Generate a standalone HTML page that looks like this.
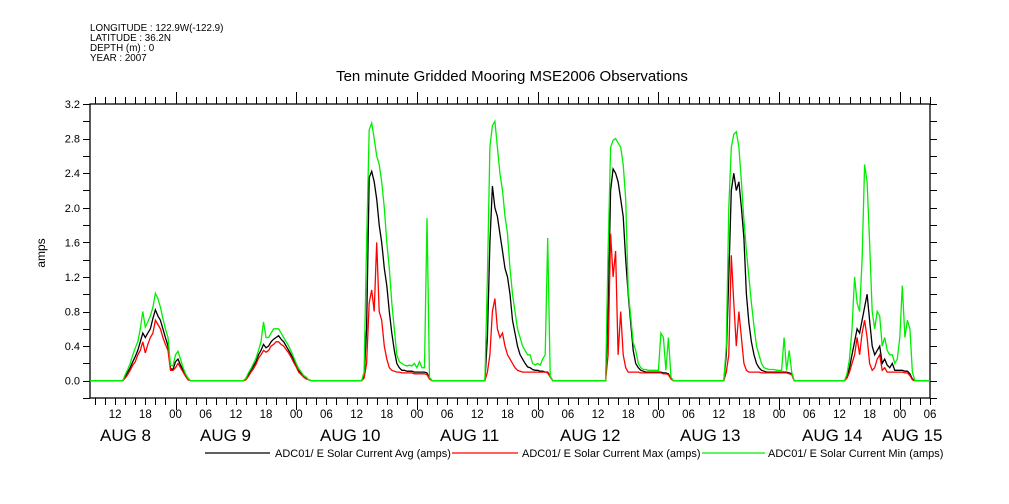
<!DOCTYPE html>
<html><head><meta charset="utf-8"><style>
body{margin:0;background:#fff;}
svg{display:block;font-family:"Liberation Sans",sans-serif;}
</style></head><body>
<svg id="chart" width="1009" height="504" viewBox="0 0 1009 504" xmlns="http://www.w3.org/2000/svg">
<rect width="1009" height="504" fill="#fff"/>
<g font-size="9.8" fill="#000">
<text x="90" y="31">LONGITUDE : 122.9W(-122.9)</text>
<text x="90" y="41">LATITUDE : 36.2N</text>
<text x="90" y="51">DEPTH (m) : 0</text>
<text x="90" y="61">YEAR : 2007</text>
</g>
<text x="512" y="81" font-size="15" text-anchor="middle" fill="#000">Ten minute Gridded Mooring MSE2006 Observations</text>
<text x="0" y="0" font-size="12" text-anchor="middle" transform="translate(45,253) rotate(-90)">amps</text>
<g id="axes"></g>
<g id="series"></g>
<g id="legend" font-size="11" fill="#000">
<line x1="205" y1="453" x2="270" y2="453" stroke="#000" stroke-width="1.2"/>
<text x="275" y="457">ADC01/ E Solar Current Avg (amps)</text>
<line x1="452" y1="453" x2="518" y2="453" stroke="#f00" stroke-width="1.2"/>
<text x="522" y="457">ADC01/ E Solar Current Max (amps)</text>
<line x1="702" y1="453" x2="765" y2="453" stroke="#0e0" stroke-width="1.2"/>
<text x="768" y="457">ADC01/ E Solar Current Min (amps)</text>
</g>
</svg>
<script>
// hours measured from AUG 8 00:00; each day's samples every 30 min from local 13:00 to 28:00
const dayStarts = [0, 24, 48, 72, 96, 120, 144];
const dayLabels = ["AUG   8","AUG   9","AUG 10","AUG 11","AUG 12","AUG 13","AUG 14","AUG 15"];
const yTicks = [0.0, 0.4, 0.8, 1.2, 1.6, 2.0, 2.4, 2.8, 3.2];
const xHourLabels = ["00","06","12","18"];
const avgAug8 = [0,0,0.05,0.1,0.15,0.22,0.28,0.35,0.45,0.55,0.5,0.55,0.6,0.72,0.82,0.75,0.7,0.6,0.5,0.4,0.14,0.13,0.22,0.25,0.18,0.12,0.06,0.02,0,0,0];
const maxAug8 = [0,0,0.07,0.13,0.2,0.3,0.38,0.45,0.6,0.8,0.62,0.68,0.75,0.85,1.01,0.95,0.85,0.72,0.6,0.5,0.18,0.17,0.3,0.34,0.25,0.15,0.08,0.03,0,0,0];
const minAug8 = [0,0,0.03,0.07,0.12,0.18,0.22,0.3,0.35,0.45,0.32,0.42,0.5,0.55,0.7,0.65,0.6,0.5,0.42,0.35,0.12,0.12,0.15,0.2,0.15,0.1,0.05,0.01,0,0,0];
const avgAug9 = [0,0,0.02,0.07,0.12,0.17,0.22,0.3,0.35,0.42,0.38,0.4,0.45,0.48,0.5,0.52,0.48,0.45,0.4,0.35,0.3,0.24,0.18,0.12,0.08,0.05,0.03,0.01,0,0,0];
const maxAug9 = [0,0,0.03,0.09,0.14,0.2,0.26,0.35,0.45,0.68,0.5,0.5,0.55,0.6,0.6,0.6,0.55,0.5,0.45,0.4,0.34,0.27,0.2,0.14,0.1,0.06,0.04,0.01,0,0,0];
const minAug9 = [0,0,0.01,0.05,0.1,0.14,0.19,0.26,0.3,0.35,0.33,0.35,0.4,0.42,0.45,0.45,0.42,0.4,0.36,0.32,0.27,0.21,0.16,0.1,0.07,0.04,0.02,0.01,0,0,0];
const avgAug10 = [0,0.05,0.6,2.35,2.42,2.3,2.1,1.8,1.6,1.3,1.1,0.8,0.55,0.35,0.2,0.15,0.12,0.12,0.11,0.11,0.11,0.1,0.1,0.1,0.1,0.1,0.09,0.03,0,0,0];
const maxAug10 = [0,0.1,1.6,2.9,2.98,2.8,2.6,2.5,2.3,2.0,1.6,1.3,0.9,0.6,0.3,0.22,0.2,0.18,0.17,0.18,0.17,0.2,0.15,0.22,0.15,0.15,1.88,0.04,0,0,0];
const minAug10 = [0,0.03,0.2,0.9,1.05,0.8,1.6,0.8,0.7,0.4,0.25,0.15,0.12,0.11,0.1,0.1,0.09,0.09,0.09,0.09,0.09,0.08,0.08,0.08,0.08,0.08,0.07,0.02,0,0,0];
const avgAug11 = [0,0,0.5,1.6,2.25,2.0,1.9,1.7,1.5,1.3,1.2,1.0,0.7,0.55,0.4,0.3,0.25,0.2,0.16,0.15,0.13,0.12,0.12,0.11,0.11,0.1,0.1,0.05,0,0,0];
const maxAug11 = [0,0,1.2,2.7,2.95,3.0,2.7,2.4,2.2,1.9,1.7,1.3,1.0,0.8,0.6,0.5,0.4,0.35,0.3,0.3,0.2,0.18,0.2,0.18,0.25,0.3,1.65,0.05,0,0,0];
const minAug11 = [0,0,0.1,0.3,0.8,0.95,0.6,0.5,0.55,0.4,0.3,0.25,0.2,0.15,0.12,0.11,0.1,0.1,0.1,0.1,0.1,0.1,0.1,0.1,0.1,0.1,0.09,0.04,0,0,0];
const avgAug12 = [0,0,0.8,2.2,2.45,2.4,2.3,2.1,1.9,1.4,1.0,0.67,0.35,0.2,0.15,0.12,0.11,0.1,0.1,0.1,0.1,0.1,0.1,0.1,0.09,0.09,0.08,0.03,0,0,0];
const maxAug12 = [0,0,1.5,2.7,2.78,2.8,2.75,2.7,2.5,2.1,1.05,0.74,0.44,0.35,0.2,0.15,0.13,0.13,0.12,0.12,0.12,0.12,0.12,0.55,0.5,0.12,0.5,0.04,0,0,0];
const minAug12 = [0,0,0.3,1.7,1.2,1.5,0.3,0.8,0.3,0.15,0.1,0.1,0.1,0.1,0.1,0.09,0.09,0.09,0.09,0.09,0.09,0.09,0.09,0.09,0.08,0.08,0.07,0.02,0,0,0];
const avgAug13 = [0,0.3,1.2,2.2,2.4,2.2,2.3,2.0,1.65,1.0,0.67,0.45,0.3,0.2,0.15,0.12,0.11,0.1,0.1,0.1,0.1,0.1,0.1,0.1,0.1,0.1,0.09,0.08,0,0,0];
const maxAug13 = [0,0.4,2.0,2.7,2.85,2.88,2.7,2.3,1.86,1.5,1.2,0.9,0.63,0.4,0.3,0.2,0.15,0.14,0.13,0.13,0.13,0.12,0.12,0.12,0.5,0.12,0.35,0.1,0,0,0];
const minAug13 = [0,0.1,0.3,1.45,0.9,0.4,0.8,0.5,0.2,0.12,0.1,0.1,0.1,0.1,0.1,0.09,0.09,0.09,0.09,0.09,0.09,0.09,0.09,0.09,0.09,0.09,0.08,0.07,0,0,0];
const avgAug14 = [0,0.05,0.15,0.3,0.45,0.6,0.55,0.7,0.85,1.0,0.7,0.4,0.3,0.35,0.4,0.2,0.25,0.18,0.15,0.2,0.12,0.12,0.12,0.12,0.11,0.11,0.08,0.02,0,0,0];
const maxAug14 = [0,0.08,0.25,0.6,1.2,0.9,0.8,1.4,2.5,2.3,1.6,0.8,0.6,0.8,0.75,0.4,0.5,0.35,0.3,0.3,0.2,0.25,0.5,1.1,0.5,0.7,0.6,0.1,0,0,0];
const minAug14 = [0,0.03,0.1,0.2,0.3,0.5,0.3,0.55,0.7,0.5,0.2,0.12,0.15,0.25,0.3,0.12,0.15,0.1,0.1,0.1,0.1,0.1,0.1,0.1,0.09,0.09,0.06,0.01,0,0,0];
const avgDays = [avgAug8,avgAug9,avgAug10,avgAug11,avgAug12,avgAug13,avgAug14];
const maxDays = [maxAug8,maxAug9,maxAug10,maxAug11,maxAug12,maxAug13,maxAug14];
const minDays = [minAug8,minAug9,minAug10,minAug11,minAug12,minAug13,minAug14];

const X0=90, X1=930, Y0=104, Y1=398, T0=7, T1=174, V0=-0.2, V1=3.2;
function xs(t){return X0+(t-T0)/(T1-T0)*(X1-X0);}
function ys(v){return Y1-(v-V0)/(V1-V0)*(Y1-Y0);}
const NS="http://www.w3.org/2000/svg";
function mk(tag,attrs,parent){const e=document.createElementNS(NS,tag);for(const k in attrs)e.setAttribute(k,attrs[k]);parent.appendChild(e);return e;}
const axes=document.getElementById('axes');
const frame=mk('rect',{x:X0,y:Y0,width:X1-X0,height:Y1-Y0,fill:'none',stroke:'#000','stroke-width':1.3},axes);


for(let v=-0.2; v<=3.21; v+=0.2){
  const y=Math.round(ys(v))+0.5;
  const lt=mk('line',{x1:X0-7,y1:y,x2:X0,y2:y,stroke:'#000'},axes);
  
  
  const rt=mk('line',{x1:X1,y1:y,x2:X1+7,y2:y,stroke:'#000'},axes);
  
  
}
yTicks.forEach(v=>{
  const t=mk('text',{x:80,y:ys(v)+4,'font-size':11,'text-anchor':'end'},axes);
  t.textContent=v.toFixed(1);
  
  
});
for(let h=8; h<=T1; h+=2){
  const x=Math.round(xs(h))+0.5, major=(h%24===0);
  const len=major?12:7;
  const bt=mk('line',{x1:x,y1:Y1,x2:x,y2:Y1+len,stroke:'#000'},axes);
  
  
  const tt=mk('line',{x1:x,y1:Y0-len,x2:x,y2:Y0,stroke:'#000'},axes);
  
  
  if(h%6===0){
    const l=mk('text',{x:xs(h),y:418,'font-size':11.5,'text-anchor':'middle'},axes);
    l.textContent=xHourLabels[(h%24)/6];
    
    
  }
}
const dayLabelX=[100,200,320,440,560,680,802,882];
dayLabels.forEach((s,i)=>{
  const t=mk('text',{x:dayLabelX[i],y:441,'font-size':17,'xml:space':'preserve'},axes);
  t.textContent=s;
  
  
});
const sg=document.getElementById('series');
function drawSeries(days,color,name){
  let pts=[[T0,0]];
  days.forEach((arr,d)=>{arr.forEach((v,i)=>pts.push([dayStarts[d]+13+i*0.5,v]));});
  pts.push([T1,0]);
  let path='M'+xs(pts[0][0]).toFixed(1)+','+ys(pts[0][1]).toFixed(1);
  for(let i=1;i<pts.length;i++){path+=' L'+xs(pts[i][0]).toFixed(1)+','+ys(pts[i][1]).toFixed(1);}
  const p=mk('path',{d:path,fill:'none',stroke:color,'stroke-width':1.3,'stroke-linejoin':'miter'},sg);
  
  
}
drawSeries(avgDays,'#000','avg-current-line');
drawSeries(minDays,'#f00','max-current-line');
drawSeries(maxDays,'#0e0','min-current-line');
</script>
</body></html>
